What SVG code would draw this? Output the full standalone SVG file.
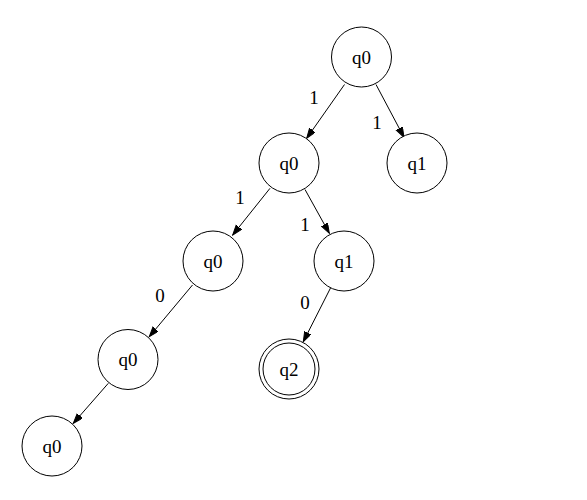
<svg xmlns="http://www.w3.org/2000/svg" width="587" height="500" viewBox="0 0 587 500">
<style>
.n{fill:#fff;stroke:#000;stroke-width:1}
.t{font-family:"Liberation Serif","Times New Roman",serif;font-size:19px;text-anchor:middle;fill:#000}
.e{stroke:#000;stroke-width:1;fill:none;marker-end:url(#ah)}
</style>
<defs>
<marker id="ah" markerUnits="userSpaceOnUse" markerWidth="11" markerHeight="8" refX="10" refY="3.5" orient="auto">
<path d="M0,0 L10,3.5 L0,7 z" fill="#000" stroke="#000" stroke-width="1"/>
</marker>
</defs>
<rect width="587" height="500" fill="#fff"/>
<g id="edges">
<line class="e" x1="344.5" y1="84.5" x2="306.7" y2="138.3"/>
<text class="t" x="314" y="104">1</text>
<line class="e" x1="376" y1="84.5" x2="404" y2="137.3"/>
<text class="t" x="377" y="129">1</text>
<line class="e" x1="270" y1="188.3" x2="232.7" y2="235"/>
<text class="t" x="240" y="204">1</text>
<line class="e" x1="305" y1="189.5" x2="329.3" y2="233.3"/>
<text class="t" x="305" y="231">1</text>
<line class="e" x1="330.5" y1="288" x2="303.3" y2="341.7"/>
<text class="t" x="305" y="309">0</text>
<line class="e" x1="192.5" y1="285" x2="149.3" y2="336.7"/>
<text class="t" x="160" y="302">0</text>
<line class="e" x1="108.3" y1="383.3" x2="73.3" y2="423.3"/>
</g>
<g id="n1"><circle class="n" cx="361.5" cy="57" r="30"/><text class="t" x="361.5" y="63.5">q0</text></g>
<g id="n2"><circle class="n" cx="289" cy="163" r="30"/><text class="t" x="289" y="169.5">q0</text></g>
<g id="n3"><circle class="n" cx="417" cy="163" r="30"/><text class="t" x="417" y="169.5">q1</text></g>
<g id="n4"><circle class="n" cx="213" cy="261" r="30"/><text class="t" x="213" y="267.5">q0</text></g>
<g id="n5"><circle class="n" cx="344" cy="261" r="30"/><text class="t" x="344" y="267.5">q1</text></g>
<g id="n6"><circle class="n" cx="289" cy="369" r="30"/><circle class="n" cx="289" cy="369" r="26"/><text class="t" x="289" y="375.5">q2</text></g>
<g id="n7"><circle class="n" cx="128" cy="359.5" r="30"/><text class="t" x="128" y="366">q0</text></g>
<g id="n8"><circle class="n" cx="52" cy="446" r="30"/><text class="t" x="52" y="452.5">q0</text></g>
</svg>
